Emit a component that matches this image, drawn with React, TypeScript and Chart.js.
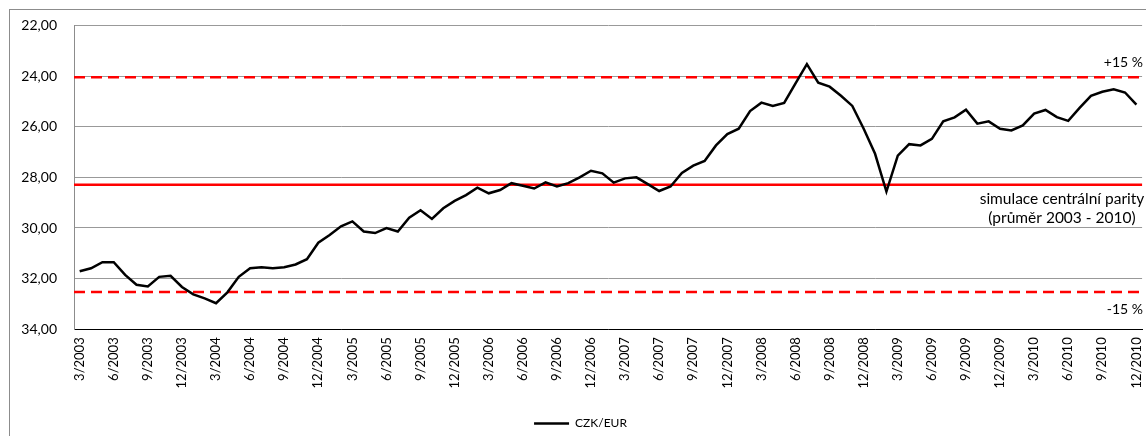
import React, { useEffect, useRef } from 'react';
import { Chart, registerables } from 'chart.js';

Chart.register(...registerables);

// Monthly categories 3/2003 .. 12/2010
const START_YEAR = 2003;
const START_MONTH = 3;
const N_MONTHS = 94;
const months: string[] = [];
for (let i = 0; i < N_MONTHS; i++) {
  const m0 = START_MONTH - 1 + i;
  months.push(`${(m0 % 12) + 1}/${START_YEAR + Math.floor(m0 / 12)}`);
}

const czkEur: number[] = [
  31.71, 31.59, 31.35, 31.35, 31.85, 32.24, 32.31, 31.93, 31.89, 32.33,
  32.62, 32.78, 32.97, 32.54, 31.93, 31.59, 31.55, 31.59, 31.55, 31.44,
  31.23, 30.58, 30.28, 29.93, 29.74, 30.14, 30.2, 30.0, 30.14, 29.59,
  29.3, 29.64, 29.22, 28.93, 28.7, 28.41, 28.63, 28.5, 28.23, 28.33,
  28.44, 28.2, 28.36, 28.23, 28.0, 27.74, 27.84, 28.21, 28.04, 28.0,
  28.27, 28.54, 28.36, 27.83, 27.54, 27.35, 26.74, 26.29, 26.08, 25.38,
  25.05, 25.18, 25.06, 24.29, 23.53, 24.26, 24.42, 24.78, 25.18, 26.08,
  27.07, 28.56, 27.14, 26.69, 26.74, 26.48, 25.79, 25.63, 25.33, 25.88,
  25.79, 26.08, 26.15, 25.95, 25.48, 25.34, 25.62, 25.77, 25.26, 24.78,
  24.62, 24.52, 24.65, 25.13,
];

const PARITY = 28.29;
const UPPER = 24.05; // +15 %
const LOWER = 32.53; // -15 %

const Y_MIN = 22;
const Y_MAX = 34;
const Y_STEP = 2;

const SERIES_LABEL = 'CZK/EUR';
const PARITY_TEXT = ['simulace centrální parity', '(průměr 2003 - 2010)'];
const UPPER_TEXT = '+15 %';
const LOWER_TEXT = '-15 %';

const FONT = 'Lato, "Open Sans", sans-serif';

const refPlugin = {
  id: 'refLines',
  beforeDatasetsDraw(chart: any) {
    const { ctx, chartArea, scales } = chart;
    const y = scales.y;
    ctx.save();
    ctx.strokeStyle = '#FF0000';
    ctx.lineWidth = 2.5;
    ctx.setLineDash([11, 6]);
    for (const v of [UPPER, LOWER]) {
      const py = y.getPixelForValue(v);
      ctx.beginPath();
      ctx.moveTo(chartArea.left, py);
      ctx.lineTo(chartArea.right, py);
      ctx.stroke();
    }
    ctx.setLineDash([]);
    const pp = y.getPixelForValue(PARITY);
    ctx.beginPath();
    ctx.moveTo(chartArea.left, pp);
    ctx.lineTo(chartArea.right, pp);
    ctx.stroke();
    ctx.restore();
  },
  afterDraw(chart: any) {
    const { ctx, scales } = chart;
    const y = scales.y;
    ctx.save();
    ctx.fillStyle = '#000';
    ctx.font = `14px ${FONT}`;
    ctx.textBaseline = 'middle';
    ctx.textAlign = 'right';
    ctx.fillText(UPPER_TEXT, 1143, y.getPixelForValue(UPPER) - 15);
    ctx.fillText(LOWER_TEXT, 1143, y.getPixelForValue(LOWER) + 17);
    ctx.textAlign = 'center';
    ctx.font = `15.5px ${FONT}`;
    const pp = y.getPixelForValue(PARITY);
    ctx.fillText(PARITY_TEXT[0], 1062, pp + 14);
    ctx.fillText(PARITY_TEXT[1], 1062, pp + 33);
    // outer frame
    ctx.strokeStyle = '#8c8c8c';
    ctx.lineWidth = 1;
    ctx.strokeRect(9.5, 9.5, 3000, 3000);
    ctx.restore();
  },
};

export default function App() {
  const ref = useRef<HTMLCanvasElement>(null);
  useEffect(() => {
    if (!ref.current) return;
    const chart = new Chart(ref.current, {
      type: 'line',
      data: {
        labels: months,
        datasets: [
          {
            label: SERIES_LABEL,
            data: czkEur,
            borderColor: '#000',
            backgroundColor: '#000',
            borderWidth: 2.5,
            pointRadius: 0,
            tension: 0,
            fill: false,
          },
        ],
      },
      options: {
        responsive: false,
        animation: false,
        layout: { padding: { left: 0, top: 21.2, right: -1, bottom: -3.5 } },
        plugins: {
          legend: {
            position: 'bottom',
            labels: {
              usePointStyle: true,
              pointStyle: 'line',
              pointStyleWidth: 35,
              color: '#000',
              font: { family: FONT, size: 12 },
            },
          },
          tooltip: { enabled: false },
        },
        scales: {
          x: {
            type: 'category',
            offset: true,
            grid: { drawOnChartArea: false, drawTicks: false },
            border: { color: '#000', width: 1 },
            afterFit: (s: any) => {
              s.height = 78.2;
            },
            ticks: {
              autoSkip: false,
              maxRotation: 90,
              minRotation: 90,
              padding: 8,
              color: '#000',
              font: { family: FONT, size: 13 },
              callback: (_v: any, i: number) => (i % 3 === 0 ? months[i] : ''),
            },
          },
          y: {
            reverse: true,
            min: Y_MIN,
            max: Y_MAX,
            grid: { color: '#999999', drawTicks: false },
            border: { color: '#8c8c8c' },
            afterFit: (s: any) => {
              s.width = 74;
            },
            ticks: {
              stepSize: Y_STEP,
              padding: 17,
              color: '#000',
              font: { family: FONT, size: 14 },
              callback: (v: any) => Number(v).toFixed(2).replace('.', ','),
            },
          },
        },
      },
      plugins: [refPlugin],
    });
    return () => chart.destroy();
  }, []);
  return (
    <div
      style={{
        position: 'absolute',
        left: 0,
        top: 0,
        width: 1146,
        height: 436,
        overflow: 'hidden',
        background: '#fff',
      }}
    >
      <canvas ref={ref} width={1160} height={436} style={{ display: 'block' }} />
    </div>
  );
}
